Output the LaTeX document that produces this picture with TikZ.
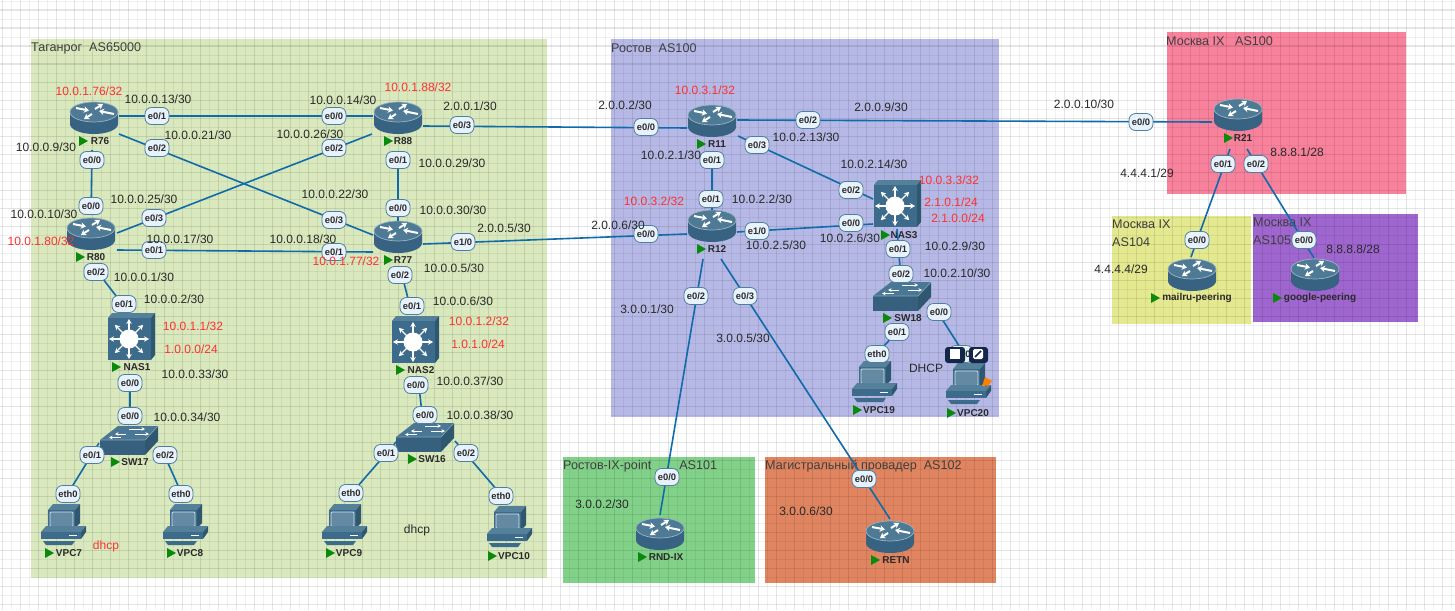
\documentclass[tikz,border=0pt]{standalone}
\usepackage{fontspec}
\setmainfont{Liberation Sans}
\usetikzlibrary{arrows.meta}
\definecolor{devcol}{HTML}{3D6B8C}
\definecolor{devdark}{HTML}{2F5870}
\definecolor{devtop}{HTML}{55809A}
\definecolor{linkcol}{HTML}{0F6BAA}
\definecolor{portfill}{HTML}{E8F2FC}
\definecolor{portedge}{HTML}{4F7F9F}
\definecolor{addrcol}{HTML}{2A2A2A}
\definecolor{redcol}{HTML}{FF3030}
\definecolor{runcol}{HTML}{0A8A0A}
\definecolor{tagcol}{HTML}{D9E8BD}
\definecolor{roscol}{HTML}{B6B9E6}
\definecolor{mskcol}{HTML}{F8819C}
\definecolor{mailcol}{HTML}{E4E88F}
\definecolor{goocol}{HTML}{A066D0}
\definecolor{rndcol}{HTML}{81D189}
\definecolor{retcol}{HTML}{E08560}
\definecolor{toolcol}{HTML}{14264A}
\tikzset{
    routericon/.pic={
        \fill[devcol!92!black] (-24,-6) -- (-24,6) arc[start angle=180, end angle=360, x radius=24pt, y radius=10pt] -- (24,-6) -- cycle;
        \draw[devtop!60!white, line width=0.7pt, fill=devtop!70!devcol] (0,-6) ellipse [x radius=24pt, y radius=10pt];
        \draw[white, line width=2pt, -{Stealth[length=5pt,width=6.5pt]}] (-18,-10) -- (-5,-7.5);
        \draw[white, line width=2pt, -{Stealth[length=5pt,width=6.5pt]}] (1,-9) -- (9,-14);
        \draw[white, line width=2pt, -{Stealth[length=5pt,width=6.5pt]}] (-2,-4) -- (-10,1);
        \draw[white, line width=2pt, -{Stealth[length=5pt,width=6.5pt]}] (20,-4) -- (5,-7);
    },
    nasicon/.pic={
        \fill[devtop] (-22,-19) -- (21,-19) -- (25,-24) -- (-18,-24) -- cycle;
        \fill[devdark] (21,-19) -- (25,-24) -- (25,18) -- (21,23) -- cycle;
        \fill[devcol] (-22,-19) rectangle (21,23);
        \fill[white] (-1,2) circle (9.5pt);
        \foreach \ang in {0,45,...,315} {
            \draw[white, line width=1.3pt, -{Stealth[length=5pt,width=5.5pt]}] (-1,2) ++(\ang:9pt) -- ++(\ang:11pt);
        }
    },
    swicon/.pic={
        \fill[devtop!55!devcol] (-29,0) -- (16,0) -- (29,-14) -- (-11,-14) -- cycle;
        \fill[devdark] (16,0) -- (29,-14) -- (29,1) -- (16,15) -- cycle;
        \fill[devcol!90!black] (-29,0) rectangle (16,15);
        \draw[devtop!70!white, line width=0.6pt] (-29,0) -- (16,0) -- (29,-14);
        \draw[white, line width=0.9pt, -{Stealth[length=3.5pt,width=3.5pt]}] (0,-11) -- (16,-11);
        \draw[white, line width=0.9pt, -{Stealth[length=3.5pt,width=3.5pt]}] (-3,-6) -- (-14,-6);
        \draw[white, line width=0.9pt, -{Stealth[length=3.5pt,width=3.5pt]}] (6,-6) -- (20,-6);
        \draw[white, line width=0.9pt, -{Stealth[length=3.5pt,width=3.5pt]}] (-8,-2.5) -- (-20,-2.5);
    },
    vpcicon/.pic={
        \fill[devtop] (-15,-16) -- (12,-16) -- (17,-22) -- (-10,-22) -- cycle;
        \fill[devdark] (12,-16) -- (17,-22) -- (17,-3) -- (12,2) -- cycle;
        \fill[devcol] (-15,-16) rectangle (12,2);
        \draw[white!80!devcol, line width=0.9pt, rounded corners=1pt, fill=devcol!80!white] (-13,-14) rectangle (10,0.5);
        \fill[devtop] (-22,6) -- (18,6) -- (23,0) -- (-17,0) -- cycle;
        \fill[devdark] (18,6) -- (23,0) -- (23,6) -- (18,13) -- cycle;
        \fill[devcol] (-22,6) rectangle (18,13);
        \draw[white, line width=0.8pt] (6,9) -- (14,9);
        \fill[devcol] (-20,15) -- (12,15) -- (9,19) -- (-17,19) -- cycle;
    }
}
\begin{document}
\begin{tikzpicture}[
    x=1pt, y=-1pt,
    dev/.style={inner sep=0pt, minimum size=1pt},
    link/.style={draw=linkcol, line width=1.6pt},
    port/.style={
        rectangle,
        rounded corners=6.5pt,
        fill=portfill,
        draw=portedge,
        line width=0.8pt,
        minimum width=24pt,
        minimum height=17pt,
        inner sep=0pt,
        text=addrcol,
        font=\fontsize{9.4}{11}\selectfont\bfseries
    },
    addr/.style={inner sep=0pt, yshift=-0.5pt, text=addrcol, font=\fontsize{12}{14}\selectfont},
    redaddr/.style={inner sep=0pt, yshift=-0.5pt, text=redcol, font=\fontsize{12}{14}\selectfont},
    devname/.style={inner sep=0pt, text=addrcol, font=\fontsize{10}{12}\selectfont\bfseries},
    area/.style={inner sep=0pt, anchor=west, align=left, text=addrcol!90!white, font=\fontsize{12.6}{18}\selectfont}
]
    \useasboundingbox (0,0) rectangle (1455,610);
    \fill[white] (0,0) rectangle (1455,610);

    % Areas
    \fill[tagcol] (31,39) rectangle (547,578);
    \fill[roscol] (611,39) rectangle (999,417);
    \fill[mskcol] (1167,32) rectangle (1406,194);
    \fill[mailcol] (1112,216) rectangle (1251,324);
    \fill[goocol] (1253,214) rectangle (1418,322);
    \fill[rndcol] (563,457) rectangle (755,583);
    \fill[retcol] (765,457) rectangle (996,583);

    % Grid
    \foreach \i in {0,...,81} {
        \draw[black, opacity=0.1, line width=1.4pt] ({2.6+18*\i},0) -- ({2.6+18*\i},610);
        \draw[black, opacity=0.055, line width=1pt] ({11.6+18*\i},0) -- ({11.6+18*\i},610);
    }
    \foreach \i in {0,...,33} {
        \draw[black, opacity=0.1, line width=1.4pt] (0,{10.2+18*\i}) -- (1455,{10.2+18*\i});
        \draw[black, opacity=0.055, line width=1pt] (0,{1.2+18*\i}) -- (1455,{1.2+18*\i});
    }

    \node[area] (areaTag) at (31,48) {Таганрог\ \ AS65000};
    \node[area] (areaRos) at (611,48) {Ростов\ \ AS100};
    \node[area] (areaMsk) at (1166,41) {Москва IX\ \ \ AS100};
    \node[area] (areaMail) at (1112,233.5) {Москва IX\\AS104};
    \node[area] (areaGoo) at (1253,231.5) {Москва IX\\AS105};
    \node[area] (areaRnd) at (563,466) {Ростов-IX-point\hspace{28pt}AS101};
    \node[area] (areaRet) at (765,466) {Магистральный провадер\ \ AS102};

    % Devices
    \foreach \n/\x/\y in {R76/94/118, R88/398/118, R80/91/234, R77/398/237, R11/712/121, R12/712/226, R21/1238/115,
        mailru/1192/275, google/1315/275, RNDIX/660/534, RETN/890/537} {
        \node[dev] (\n) at (\x,\y) {};
        \pic at (\n) {routericon};
    }
    \foreach \n/\x/\y in {NAS1/130/337, NAS2/414/340, NAS3/896/204} {
        \node[dev] (\n) at (\x,\y) {};
        \pic at (\n) {nasicon};
    }
    \foreach \n/\x/\y in {SW17/129/440, SW16/425/437, SW18/902/296} {
        \node[dev] (\n) at (\x,\y) {};
        \pic at (\n) {swicon};
    }
    \foreach \n/\x/\y in {VPC7/63/526, VPC8/185/526, VPC9/344/526, VPC10/509/528, VPC19/874/383, VPC20/968/385} {
        \node[dev] (\n) at (\x,\y) {};
        \pic at (\n) {vpcicon};
    }

    % Device names
    \foreach \n/\txt/\x/\y/\tx in {nR76/R76/100/141/83, nR88/R88/403/141/388, nR80/R80/96/257/80, nR77/R77/403/260/388,
        nNAS1/NAS1/137/367/116, nNAS2/NAS2/421/370/400, nNAS3/NAS3/904/235/885,
        nSW17/SW17/135/462/115, nSW16/SW16/432/459/412, nSW18/SW18/908/318/887,
        nVPC7/VPC7/69/553/49, nVPC8/VPC8/190/553/171, nVPC9/VPC9/349/553/330, nVPC10/VPC10/514/556/492,
        nVPC19/VPC19/879/410/857, nVPC20/VPC20/973/413/951,
        nR11/R11/717/144/701, nR12/R12/717/249/701, nR21/R21/1243/138/1228,
        nmail/mailru-peering/1197/298/1155, ngoogle/google-peering/1320/298/1277,
        nRND/RND-IX/666/557/642, nRETN/RETN/896/560/875} {
        \node[devname] (\n) at (\x,\y) {\txt};
        \fill[runcol] ({\tx-4},{\y-5}) -- ({\tx+5},\y) -- ({\tx-4},{\y+5}) -- cycle;
    }

    % Links
    \foreach \a/\ax/\ay/\b/\bx/\by in {
        R76/25/-2/R88/-25/-2, R76/25/16/R77/-25/-2, R80/26/-1/R88/-26/16, R76/-2/32/R80/0/-19,
        R80/26/16/R77/-25/15, R88/0/35/R77/0/-16, R88/25/8/R11/-25/7, R11/25/-1/R21/-26/7,
        R77/25/7/R12/-25/8, R11/0/31/R12/0/-16, R11/26/15/NAS3/-23/-5, R12/25/6/NAS3/-23/20,
        R80/12/45/NAS1/-3/-27, R77/6/46/NAS2/-2/-26, NAS1/0/39/SW17/1/-15, NAS2/4/38/SW16/-2/-15,
        SW17/-30/3/VPC7/7/-36, SW17/34/12/VPC8/-5/-36, SW16/-28/4/VPC9/13/-39, SW16/30/4/VPC10/-12/-38,
        NAS3/1/25/SW18/-1/-16, SW18/1/30/VPC19/4/-31, SW18/33/12/VPC20/-5/-33,
        R12/-9/33/RNDIX/0/-19, R12/9/33/RETN/0/-18, R21/-8/34/mailru/-1/-18, R21/9/34/google/-1/-17} {
        \draw[link] ([shift={(\ax,\ay)}]\a.center) -- ([shift={(\bx,\by)}]\b.center);
    }

    % Ports
    \foreach \x/\y/\txt [count=\i] in {
        157/116/{e0/1}, 334/116/{e0/0}, 157/148/{e0/2}, 334/148/{e0/2}, 462/125/{e0/3}, 398/160/{e0/1}, 398/208/{e0/0},
        92/160/{e0/0}, 91/206/{e0/0}, 154/218/{e0/3}, 334/220/{e0/3}, 154/250/{e0/1}, 334/252/{e0/1}, 463/242/{e1/0},
        96/272/{e0/2}, 400/275/{e0/2}, 124/304/{e0/1}, 412/306/{e0/1}, 130/383/{e0/0}, 416/385/{e0/0}, 130/416/{e0/0},
        425/415/{e0/0}, 92/455/{e0/1}, 165/455/{e0/2}, 386/453/{e0/1}, 466/453/{e0/2}, 68/494/{eth0}, 181/494/{eth0},
        351/493/{eth0}, 501/496/{eth0}, 646/127/{e0/0}, 808/120/{e0/2}, 1141/122/{e0/0}, 757/145/{e0/3}, 712/160/{e0/1},
        711/199/{e0/1}, 646/234/{e0/0}, 757/231/{e1/0}, 851/223/{e0/0}, 851/190/{e0/2}, 696/296/{e0/2}, 745/296/{e0/3},
        898/249/{e0/1}, 901/274/{e0/2}, 897/332/{e0/1}, 939/312/{e0/0}, 877/354/{eth0}, 961/354/{eth0}, 667/477/{e0/0},
        864/479/{e0/0}, 1223/164/{e0/1}, 1256/164/{e0/2}, 1197/240/{e0/0}, 1304/240/{e0/0}} {
        \node[port] (port\i) at (\x,\y) {\txt};
    }

    % Addresses
    \foreach \x/\y/\txt [count=\i] in {
        158/99/{10.0.0.13/30}, 198/135/{10.0.0.21/30}, 343/100/{10.0.0.14/30}, 310/134/{10.0.0.26/30}, 470/106/{2.0.0.1/30},
        452/163/{10.0.0.29/30}, 453/210/{10.0.0.30/30}, 46/147/{10.0.0.9/30}, 144/199/{10.0.0.25/30}, 335/194/{10.0.0.22/30},
        44/214/{10.0.0.10/30}, 180/239/{10.0.0.17/30}, 303/239/{10.0.0.18/30}, 504/228/{2.0.0.5/30}, 618/225/{2.0.0.6/30},
        454/268/{10.0.0.5/30}, 144/277/{10.0.0.1/30}, 174/299/{10.0.0.2/30}, 463/301/{10.0.0.6/30}, 195/374/{10.0.0.33/30},
        470/381/{10.0.0.37/30}, 187/417/{10.0.0.34/30}, 480/415/{10.0.0.38/30}, 417/530/{dhcp}, 625/105/{2.0.0.2/30},
        671/155/{10.0.2.1/30}, 881/107/{2.0.0.9/30}, 806/137/{10.0.2.13/30}, 874/164/{10.0.2.14/30}, 762/199/{10.0.2.2/30},
        776/245/{10.0.2.5/30}, 850/238/{10.0.2.6/30}, 955/246/{10.0.2.9/30}, 957/273/{10.0.2.10/30}, 647/309/{3.0.0.1/30},
        743/338/{3.0.0.5/30}, 926/368/{DHCP}, 602/504/{3.0.0.2/30}, 806/511/{3.0.0.6/30}, 1084/104/{2.0.0.10/30},
        1147/173/{4.4.4.1/29}, 1297/152/{8.8.8.1/28}, 1121/269/{4.4.4.4/29}, 1353/249/{8.8.8.8/28}} {
        \node[addr] (addr\i) at (\x,\y) {\txt};
    }
    \foreach \x/\y/\txt [count=\i] in {
        89/91/{10.0.1.76/32}, 418/87/{10.0.1.88/32}, 41/241/{10.0.1.80/32}, 346/261/{10.0.1.77/32}, 193/326/{10.0.1.1/32},
        191/349/{1.0.0.0/24}, 479/321/{10.0.1.2/32}, 478/344/{1.0.1.0/24}, 106/546/{dhcp}, 705/90/{10.0.3.1/32},
        654/201/{10.0.3.2/32}, 949/180/{10.0.3.3/32}, 951/202/{2.1.0.1/24}, 958/218/{2.1.0.0/24}} {
        \node[redaddr] (red\i) at (\x,\y) {\txt};
    }

    % Toolbar and plug on VPC20
    \fill[toolcol, rounded corners=3pt] (945,347) rectangle (965,363);
    \fill[toolcol, rounded corners=3pt] (969,347) rectangle (988,363);
    \fill[white] (950,349) rectangle (960,359);
    \fill[white, rounded corners=1.5pt] (973,349) rectangle (983,359);
    \draw[toolcol, line width=1.5pt] (975,357) -- (981,351);
    \draw[orange, line width=2.5pt] (983,386) -- (987,381);
    \fill[orange] (985,377) -- (992,381) -- (988,386) -- (983,383) -- cycle;
\end{tikzpicture}
\end{document}
